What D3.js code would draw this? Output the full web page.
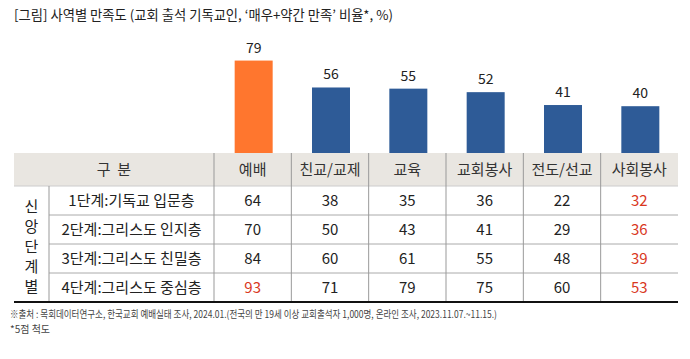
<!DOCTYPE html>
<html><head><meta charset="utf-8">
<script src="https://cdn.jsdelivr.net/npm/d3@7"></script>
<style>
html,body{margin:0;padding:0;background:#fff;}
svg{display:block;font-family:"Noto Sans CJK KR","Noto Sans",sans-serif;}
</style></head>
<body>
<svg id="c" width="690" height="359"></svg>
<script>
const categories = ["예배","친교/교제","교육","교회봉사","전도/선교","사회봉사"];
const totals = [79,56,55,52,41,40];
const stageLabels = ["1단계:기독교 입문층","2단계:그리스도 인지층","3단계:그리스도 친밀층","4단계:그리스도 중심층"];
const stage1 = [64,38,35,36,22,32];
const stage2 = [70,50,43,41,29,36];
const stage3 = [84,60,61,55,48,39];
const stage4 = [93,71,79,75,60,53];
const stageRows = [stage1,stage2,stage3,stage4];
const highlighted = [[3,0],[0,5],[1,5],[2,5],[3,5]];
const title = "[그림] 사역별 만족도 (교회 출석 기독교인, ‘매우+약간 만족’ 비율*, %)";
const groupLabel = "신앙단계별";
const headerLabel = "구  분";
const source = "※출처 : 목회데이터연구소, 한국교회 예배실태 조사, 2024.01.(전국의 만 19세 이상 교회출석자 1,000명, 온라인 조사, 2023.11.07.~11.15.)";
const note = "*5점 척도";

const svg = d3.select("#c");
const tL = 14, tR = 678, c1 = 49, c2 = 214;
const baseY = 153, headH = 33, rowH = 29;

const x = d3.scaleBand().domain(categories).range([c2, tR]).padding(0);
const y = d3.scaleLinear().domain([0,100]).range([baseY, baseY-117]);

svg.append("text").attr("x",14).attr("y",20).attr("font-size",13.3).attr("fill","#222").text(title);

// bars
const barW = 38;
svg.selectAll("rect.bar").data(categories).join("rect")
  .attr("x", d=>x(d)+x.bandwidth()/2-barW/2+1)
  .attr("width", barW)
  .attr("y", (d,i)=>y(totals[i]))
  .attr("height", (d,i)=>baseY - y(totals[i]))
  .attr("fill", (d,i)=> i===0 ? "#ff762e" : "#2e5b97");
svg.selectAll("text.val").data(categories).join("text")
  .attr("x", d=>x(d)+x.bandwidth()/2+1)
  .attr("y", (d,i)=>y(totals[i])-8)
  .attr("text-anchor","middle").attr("font-size",14).attr("fill","#222")
  .text((d,i)=>totals[i]);

// header
svg.append("rect").attr("x",tL).attr("y",baseY).attr("width",tR-tL).attr("height",headH).attr("fill","#e9e6e1");
svg.append("text").attr("x",(tL+c2)/2).attr("y",baseY+headH/2+5).attr("text-anchor","middle")
  .attr("font-size",15).attr("fill","#333").attr("xml:space","preserve").text(headerLabel);
svg.selectAll("text.hd").data(categories).join("text")
  .attr("x", d=>x(d)+x.bandwidth()/2).attr("y", baseY+headH/2+5)
  .attr("text-anchor","middle").attr("font-size",15).attr("fill","#333").text(d=>d);

const bodyTop = baseY+headH;
const bodyBot = bodyTop + rowH*4;
// row lines
for (let r=1;r<4;r++){
  svg.append("line").attr("x1",c1).attr("x2",tR).attr("y1",bodyTop+r*rowH).attr("y2",bodyTop+r*rowH)
    .attr("stroke","#aaa").attr("stroke-width",1);
}
svg.append("line").attr("x1",tL).attr("x2",tR).attr("y1",bodyTop).attr("y2",bodyTop).attr("stroke","#ccc");
// vertical lines
const vxs = [c2].concat(categories.slice(1).map(d=>x(d)));
vxs.forEach(vx=>{
  svg.append("line").attr("x1",vx).attr("x2",vx).attr("y1",baseY).attr("y2",bodyBot).attr("stroke","#999");
});
svg.append("line").attr("x1",c1).attr("x2",c1).attr("y1",bodyTop).attr("y2",bodyBot).attr("stroke","#999");
svg.append("line").attr("x1",tL).attr("x2",tR).attr("y1",bodyBot).attr("y2",bodyBot).attr("stroke","#111").attr("stroke-width",2);

// group label vertical
groupLabel.split("").forEach((ch,i)=>{
  svg.append("text").attr("x",(tL+c1)/2).attr("y",bodyTop+26+i*20).attr("text-anchor","middle")
    .attr("font-size",15).attr("fill","#222").text(ch);
});
// row labels
stageLabels.forEach((s,r)=>{
  svg.append("text").attr("x",(c1+c2)/2).attr("y",bodyTop+r*rowH+rowH/2+5).attr("text-anchor","middle")
    .attr("font-size",15).attr("fill","#222").text(s);
});
// cells
stageRows.forEach((row,r)=>{
  row.forEach((v,c)=>{
    const hl = highlighted.some(h=>h[0]===r && h[1]===c);
    svg.append("text").attr("x",x(categories[c])+x.bandwidth()/2).attr("y",bodyTop+r*rowH+rowH/2+5)
      .attr("text-anchor","middle").attr("font-size",15).attr("fill", hl ? "#d9381e" : "#222").text(v);
  });
});

svg.append("text").attr("x",10).attr("y",318).attr("font-size",10).attr("fill","#444")
  .attr("textLength",487).attr("lengthAdjust","spacingAndGlyphs").text(source);
svg.append("text").attr("x",10).attr("y",333).attr("font-size",10).attr("fill","#444").text(note);
</script>
</body></html>
